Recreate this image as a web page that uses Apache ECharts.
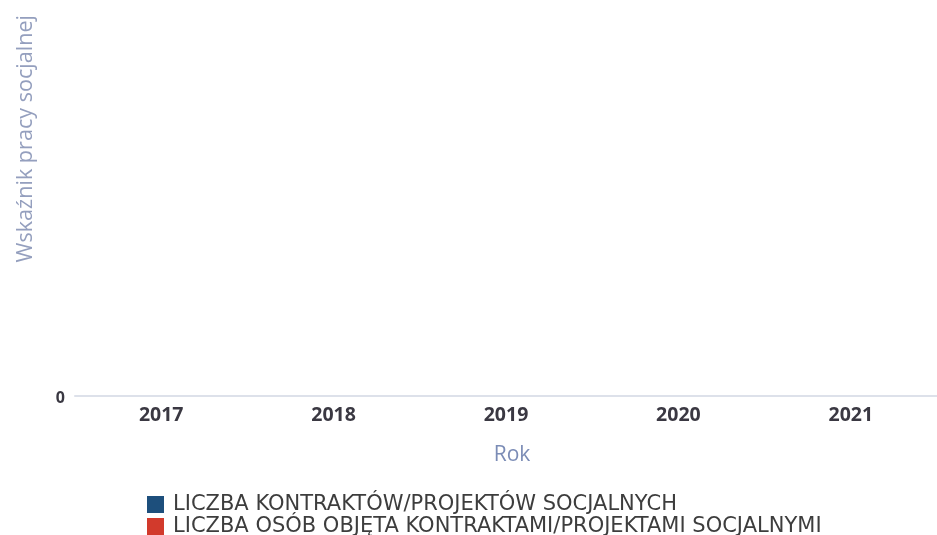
<!DOCTYPE html>
<html>
<head>
<meta charset="utf-8">
<script src="https://cdn.jsdelivr.net/npm/echarts@6/dist/echarts.min.js"></script>
<style>html,body{margin:0;padding:0;background:#fff}#c{width:937px;height:535px}</style>
</head>
<body>
<div id="c"></div>
<script>
const categories = ['2017', '2018', '2019', '2020', '2021'];
const seriesNames = ['LICZBA KONTRAKTÓW/PROJEKTÓW SOCJALNYCH', 'LICZBA OSÓB OBJĘTA KONTRAKTAMI/PROJEKTAMI SOCJALNYMI'];
const contracts = [0, 0, 0, 0, 0];
const persons = [0, 0, 0, 0, 0];
const yTicks = [0];
const yTitle = 'Wskaźnik pracy socjalnej';
const xTitle = 'Rok';

const legendBase = {
  orient: 'horizontal', left: 147, padding: 0,
  itemWidth: 17, itemHeight: 17, icon: 'rect',
  textStyle: { color: '#3d3d3d', fontSize: 21, lineHeight: 18, fontFamily: 'DejaVu Sans, sans-serif', padding: [0, 0, 0, 4] }
};

const chart = echarts.init(document.getElementById('c'));
chart.setOption({
  animation: false,
  backgroundColor: '#fff',
  grid: { left: 75, right: -8, top: 20, bottom: 139, containLabel: false },
  graphic: [{
    type: 'text', left: 15, top: 15, rotation: Math.PI / 2,
    style: { text: yTitle, fill: '#949fbe', font: '21.6px "Open Sans", sans-serif' }
  }],
  legend: [
    Object.assign({}, legendBase, { top: 494, data: [seriesNames[0]] }),
    Object.assign({}, legendBase, { top: 516, data: [seriesNames[1]] })
  ],
  xAxis: {
    type: 'category', data: categories,
    name: xTitle, nameLocation: 'middle', nameGap: 49,
    nameTextStyle: { color: '#7b8cb6', fontSize: 21, fontFamily: 'Open Sans, sans-serif', padding: [0, 0, 0, 12] },
    axisLine: { lineStyle: { color: '#dde1ea', width: 2 } },
    axisTick: { show: false },
    axisLabel: { color: '#3a3842', fontSize: 19.5, fontWeight: 'bold', fontFamily: 'Open Sans, sans-serif', margin: 9 }
  },
  yAxis: {
    type: 'value', min: 0, max: 1, interval: 1,
    axisLine: { show: false }, axisTick: { show: false },
    splitLine: { show: false },
    axisLabel: {
      color: '#3a3842', fontSize: 16, fontWeight: 'bold', fontFamily: 'Open Sans, sans-serif', margin: 10,
      verticalAlign: 'top', padding: [-6, 0, 0, 0],
      formatter: v => yTicks.includes(v) ? String(v) : ''
    }
  },
  series: [
    { name: seriesNames[0], type: 'bar', data: contracts, itemStyle: { color: '#1d4f7c' } },
    { name: seriesNames[1], type: 'bar', data: persons, itemStyle: { color: '#d23a2c' } }
  ]
});
</script>
</body>
</html>
